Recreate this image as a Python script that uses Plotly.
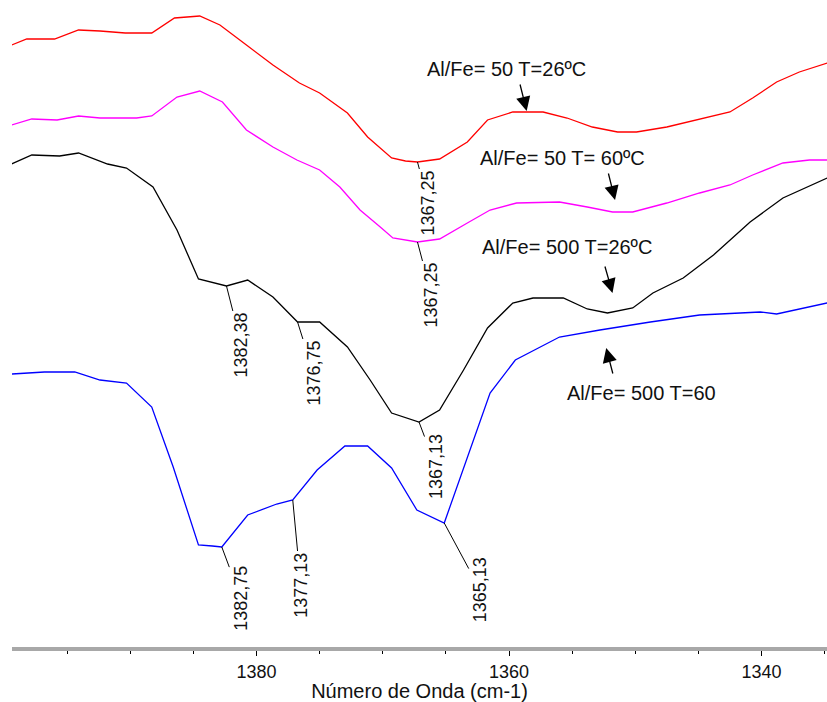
import plotly.graph_objects as go

# Wavenumber (cm-1) and relative transmittance (arbitrary units)
red_wn = [1399.4, 1398.2, 1396.0, 1394.1, 1392.4, 1390.4, 1388.3, 1386.5, 1384.5, 1382.9,
          1380.8, 1378.7, 1376.6, 1375.0, 1372.8, 1371.2, 1369.3, 1368.2, 1367.25, 1365.5,
          1363.3, 1361.7, 1359.7, 1357.3, 1355.4, 1353.4, 1351.4, 1349.9, 1347.5, 1344.9,
          1342.5, 1340.7, 1338.8, 1337.0, 1334.8]
red_t = [60.2, 60.8, 60.8, 61.7, 61.6, 61.4, 61.4, 62.9, 63.1, 62.2,
         60.2, 58.2, 56.4, 55.4, 53.4, 51.0, 48.9, 48.6, 48.5, 48.8,
         50.5, 52.7, 53.5, 53.5, 52.9, 52.0, 51.5, 51.5, 52.0, 52.8,
         53.5, 54.9, 56.5, 57.5, 58.4]

mag_wn = [1399.4, 1397.8, 1395.8, 1394.1, 1392.4, 1389.5, 1388.3, 1386.3, 1384.5, 1382.7,
          1380.8, 1378.7, 1376.8, 1375.0, 1373.4, 1371.8, 1370.2, 1369.2, 1367.25, 1365.5,
          1363.3, 1361.5, 1359.4, 1356.0, 1353.8, 1351.8, 1350.2, 1347.5, 1344.9, 1342.5,
          1340.7, 1338.3, 1336.2, 1334.8]
mag_t = [52.2, 52.8, 52.7, 53.1, 52.9, 52.9, 53.1, 55.0, 55.6, 54.5,
         51.7, 50.0, 48.7, 47.7, 46.0, 43.7, 42.0, 40.9, 40.5, 40.8,
         42.4, 43.7, 44.4, 44.5, 44.0, 43.5, 43.5, 44.4, 45.4, 46.2,
         47.2, 48.4, 48.7, 48.7]

blk_wn = [1399.4, 1397.8, 1395.6, 1394.1, 1391.8, 1390.3, 1388.2, 1386.3, 1384.6, 1382.38,
          1380.7, 1378.7, 1376.75, 1375.0, 1372.8, 1371.0, 1369.3, 1367.13, 1365.5, 1363.6,
          1361.7, 1359.7, 1358.1, 1355.7, 1353.8, 1352.2, 1350.2, 1348.6, 1346.2, 1343.8,
          1340.9, 1338.3, 1334.8]
blk_t = [48.3, 49.2, 49.1, 49.4, 48.3, 47.9, 46.0, 41.7, 36.8, 36.1,
         36.7, 35.0, 32.5, 32.5, 30.0, 26.7, 23.4, 22.5, 23.7, 27.7,
         31.9, 34.4, 34.9, 34.9, 33.8, 33.4, 33.9, 35.4, 36.9, 39.2,
         42.5, 44.9, 46.9]

blu_wn = [1399.4, 1396.8, 1394.4, 1392.4, 1390.3, 1388.3, 1386.6, 1384.6, 1383.5, 1382.75,
          1380.7, 1378.4, 1377.13, 1375.2, 1373.0, 1371.2, 1369.3, 1367.3, 1365.13, 1363.3,
          1361.5, 1359.5, 1356.0, 1352.8, 1348.8, 1344.9, 1340.1, 1338.8, 1337.0, 1334.8]
blu_t = [27.3, 27.5, 27.5, 26.7, 26.4, 24.0, 18.0, 10.2, 10.1, 10.0,
         13.2, 14.3, 14.7, 17.7, 20.1, 20.1, 17.9, 13.7, 12.4, 19.0,
         25.4, 28.7, 31.0, 31.7, 32.5, 33.2, 33.5, 33.3, 33.8, 34.4]

series_names = ["Al/Fe= 50 T=26ºC", "Al/Fe= 50 T= 60ºC", "Al/Fe= 500 T=26ºC", "Al/Fe= 500 T=60"]
series_colors = ["#ff0000", "#ff00ff", "#000000", "#0000ff"]

# Peak labels: (series index, wavenumber, label text, label offset px)
peaks = [
    (0, 1367.25, "1367,25", (11, 41)),
    (1, 1367.25, "1367,25", (14, 53)),
    (2, 1382.38, "1382,38", (15, 59)),
    (2, 1376.75, "1376,75", (16, 51)),
    (2, 1367.13, "1367,13", (17, 45)),
    (3, 1382.75, "1382,75", (19, 51)),
    (3, 1377.13, "1377,13", (8, 85)),
    (3, 1365.13, "1365,13", (36, 67)),
]

# Curve labels: (text position wn, t) and arrow (tip wn, tip t, tail offset)
label_pos = [(1360.2, 57.8), (1355.8, 48.9), (1355.4, 40.0), (1349.5, 25.4)]
arrow_pos = [(1358.6, 53.6, -7, -28), (1351.6, 44.7, -7, -28),
             (1351.8, 35.4, -8, -28), (1352.3, 29.9, 7, 27)]

tick_vals = [1380, 1360, 1340]
tick_text = ["1380", "1360", "1340"]
x_title = "Número de Onda (cm-1)"

xs = [red_wn, mag_wn, blk_wn, blu_wn]
ys = [red_t, mag_t, blk_t, blu_t]

fig = go.Figure()
for i in range(4):
    fig.add_trace(go.Scatter(x=xs[i], y=ys[i], mode="lines", name=series_names[i],
                             line=dict(color=series_colors[i], width=1.3)))

FONT = "Liberation Sans, Arial, sans-serif"
ann = []
for si, wn, txt, (ox, oy) in peaks:
    yv = ys[si][xs[si].index(wn)]
    ann.append(dict(x=wn, y=yv, xref="x", yref="y", text=txt, textangle=-90,
                    showarrow=True, arrowhead=0, arrowwidth=1, arrowcolor="#000",
                    ax=ox, ay=oy, standoff=0,
                    font=dict(family=FONT, size=18, color="#111")))
for i in range(4):
    lx, ly = label_pos[i]
    ann.append(dict(x=lx, y=ly, xref="x", yref="y", text=series_names[i], showarrow=False,
                    font=dict(family=FONT, size=20, color="#111")))
    tx, ty, ax, ay = arrow_pos[i]
    ann.append(dict(x=tx, y=ty, xref="x", yref="y", text="", showarrow=True,
                    arrowhead=2, arrowsize=2.2, arrowwidth=1.3, arrowcolor="#000",
                    ax=ax, ay=ay, standoff=0))

fig.update_layout(
    width=827, height=702,
    margin=dict(l=12, r=0, t=0, b=55),
    plot_bgcolor="white", paper_bgcolor="white",
    showlegend=False,
    annotations=ann,
    xaxis=dict(range=[1399.37, 1334.81], tickvals=tick_vals, ticktext=tick_text,
               showgrid=False, zeroline=False, showline=True, linecolor="#a8a8a8",
               linewidth=4, ticks="outside", ticklen=5, tickcolor="#000", tickwidth=1,
               minor=dict(dtick=5, tick0=1340, ticks="outside", ticklen=3, tickcolor="#000"),
               tickfont=dict(family=FONT, size=18, color="#111"),
               title=dict(text=x_title, font=dict(family=FONT, size=20, color="#111"), standoff=6)),
    yaxis=dict(range=[0, 64.7], visible=False, showgrid=False, zeroline=False),
)

fig.write_html("out.html", config={"displayModeBar": False},
               post_script="document.body.style.margin='0';document.body.style.overflow='hidden';")
